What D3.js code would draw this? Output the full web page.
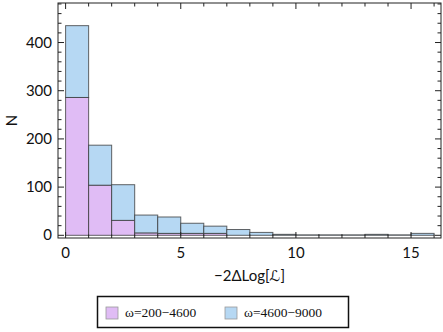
<!DOCTYPE html>
<html>
<head>
<meta charset="utf-8">
<script src="https://cdn.jsdelivr.net/npm/d3@7"></script>
<style>
  body { margin: 0; background: #fff; }
  svg { display: block; }
  .tick-label { font-family: Lato, "DejaVu Sans", sans-serif; font-size: 15px; fill: #111; }
  .legend-text { font-family: "Liberation Serif", serif; font-size: 13.5px; fill: #111; }
</style>
</head>
<body>
<div id="viz"></div>
<script>
'use strict';

// histogram bins of -2ΔLog[L], width 1
const binStarts = [0, 1, 2, 3, 4, 5, 6, 7, 8, 9, 10, 11, 12, 13, 14, 15];
// counts, omega = 200-4600 (bottom layer)
const lowOmega = [286, 104, 31, 5, 4, 4, 4, 0, 0, 0, 0, 0, 0, 0, 0, 0];
// counts, omega = 4600-9000 (stacked on top)
const highOmega = [149, 83, 74, 37, 34, 21, 15, 12, 6, 2, 1, 1, 1, 2, 1, 4];

const seriesNames = ['\u03c9=200\u22124600', '\u03c9=4600\u22129000'];
const seriesColors = ['#e0bcf5', '#b6d8f3'];

const xTicks = [0, 5, 10, 15];
const yTicks = [0, 100, 200, 300, 400];

const W = 443, H = 332;
const frame = {left: 58, right: 441, top: 3, bottom: 238};

const svg = d3.select('#viz')
  .append('svg')
    .attr('width', W)
    .attr('height', H);

const x = d3.scaleLinear()
  .domain([-0.33, 16.3])
  .range([frame.left, frame.right]);

const y = d3.scaleLinear()
  .domain([-5.6, 482])
  .range([frame.bottom, frame.top]);

// stack the two series
const rows = binStarts.map((b, i) => ({x0: b, low: lowOmega[i], high: highOmega[i]}));
const stacked = d3.stack().keys(['low', 'high'])(rows);

stacked.forEach((layer, k) => {
  svg.append('g')
    .selectAll('rect')
    .data(layer.filter(d => d[1] > d[0]))
    .join('rect')
      .attr('x', d => x(d.data.x0))
      .attr('y', d => y(d[1]))
      .attr('width', d => x(d.data.x0 + 1) - x(d.data.x0))
      .attr('height', d => y(d[0]) - y(d[1]))
      .attr('fill', seriesColors[k])
      .attr('stroke', '#333')
      .attr('stroke-opacity', 0.75)
      .attr('stroke-width', 1);
});

// frame
svg.append('rect')
  .attr('x', frame.left)
  .attr('y', frame.top)
  .attr('width', frame.right - frame.left)
  .attr('height', frame.bottom - frame.top)
  .attr('fill', 'none')
  .attr('stroke', '#222')
  .attr('stroke-width', 1);

const ticks = svg.append('g').attr('stroke', '#222').attr('stroke-width', 1);

// x ticks (bottom and top), minor every 1
d3.range(0, 17).forEach(v => {
  const major = v % 5 === 0;
  const len = major ? 6 : 3.5;
  const px = x(v);
  ticks.append('line').attr('x1', px).attr('x2', px)
    .attr('y1', frame.bottom).attr('y2', frame.bottom - len);
  ticks.append('line').attr('x1', px).attr('x2', px)
    .attr('y1', frame.top).attr('y2', frame.top + len);
});

// y ticks (left and right), minor every 20
d3.range(0, 481, 20).forEach(v => {
  const major = v % 100 === 0;
  const len = major ? 6 : 3.5;
  const py = y(v);
  ticks.append('line').attr('x1', frame.left).attr('x2', frame.left + len)
    .attr('y1', py).attr('y2', py);
  ticks.append('line').attr('x1', frame.right).attr('x2', frame.right - len)
    .attr('y1', py).attr('y2', py);
});

svg.append('g')
  .selectAll('text')
  .data(xTicks)
  .join('text')
    .attr('class', 'tick-label')
    .attr('x', d => x(d))
    .attr('y', 258)
    .attr('text-anchor', 'middle')
    .text(d => d);

svg.append('g')
  .selectAll('text')
  .data(yTicks)
  .join('text')
    .attr('class', 'tick-label')
    .attr('x', frame.left - 6)
    .attr('y', d => y(d) + 5)
    .attr('text-anchor', 'end')
    .text(d => d);

// axis labels
svg.append('text')
  .attr('class', 'tick-label')
  .attr('transform', `translate(17,${(frame.top + frame.bottom) / 2}) rotate(-90)`)
  .attr('text-anchor', 'middle')
  .text('N');

svg.append('text')
  .attr('class', 'tick-label')
  .attr('x', (frame.left + frame.right) / 2)
  .attr('y', 281)
  .attr('text-anchor', 'middle')
  .text('\u22122\u0394Log[\u2112]');

// legend
const legend = svg.append('g');
legend.append('rect')
  .attr('x', 97.5).attr('y', 296.5)
  .attr('width', 251).attr('height', 31)
  .attr('fill', '#fff')
  .attr('stroke', '#111')
  .attr('stroke-width', 1.5);

const legendX = [106, 225];
seriesNames.forEach((name, k) => {
  legend.append('rect')
    .attr('x', legendX[k]).attr('y', 307)
    .attr('width', 12).attr('height', 12)
    .attr('fill', seriesColors[k])
    .attr('stroke', '#999')
    .attr('stroke-width', 0.8);
  legend.append('text')
    .attr('class', 'legend-text')
    .attr('x', legendX[k] + 19)
    .attr('y', 317)
    .text(name);
});
</script>
</body>
</html>
